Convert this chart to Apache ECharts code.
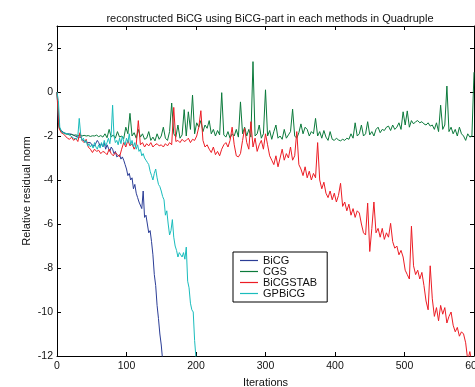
<!DOCTYPE html>
<html><head><meta charset="utf-8">
<script src="https://cdn.jsdelivr.net/npm/echarts/dist/echarts.min.js"></script>
<style>html,body{margin:0;padding:0;background:#fff}#c{width:475px;height:387px}</style>
</head><body><div id="c"></div>
<script>
const titleText = "reconstructed BiCG using BiCG-part in each methods in Quadruple";
const xName = "Iterations";
const yName = "Relative residual norm";
const seriesNames = ["BiCG", "CGS", "BiCGSTAB", "GPBiCG"];
const seriesColors = ["#2b3d96", "#0b7a3b", "#ec1c24", "#1abcbc"];
const xMin = 0, xMax = 600, xStep = 100;
const yMin = -12, yMax = 3, yStep = 2;

// BiCG: iterations 0,2,4,...,152
const bicgStep = 2;
const bicgVals = [
  0, -1.4, -1.65, -1.75, -1.8, -1.85, -1.88, -1.9, -1.92, -1.9,
  -1.95, -1.93, -1.97, -2.0, -1.98, -2.05, -2.1, -2.05, -2.15, -2.2,
  -2.25, -2.2, -2.3, -2.35, -2.3, -2.4, -2.35, -2.45, -2.4, -2.2,
  -2.3, -2.45, -2.35, -2.5, -2.3, -2.6, -2.4, -2.55, -2.7, -2.5,
  -2.6, -2.8, -2.7, -2.95, -3.0, -2.85, -3.05, -2.95, -3.1, -3.3,
  -3.5, -3.8, -3.7, -4.0, -3.9, -4.4, -4.2, -4.6, -4.8, -5.0,
  -5.0, -5.3, -4.5, -5.7, -5.6, -6.0, -6.4, -6.3, -6.8, -7.4,
  -8.3, -8.8, -9.7, -10.3, -11.0, -11.5, -12.2
];

// CGS: iterations 0,3,6,...,600
const cgsStep = 3;
const cgsVals = [
  0, -1.6, -1.8, -1.85, -1.9, -1.92, -1.95, -1.93, -1.97, -1.95,
  -1.98, -1.96, -2.0, -1.97, -2.0, -1.98, -2.02, -1.99, -2.0, -1.96,
  -2.03, -1.98, -2.05, -1.9, -2.08, -1.7, -2.05, -1.95, -2.1, -1.8,
  -2.05, -2.0, -2.12, -1.6, -1.9, -0.97, -2.0, -1.85, -2.1, -1.7,
  -2.05, -1.9, -2.15, -2.1, -1.8, -2.2, -2.05, -2.22, -1.9, -2.15,
  -2.0, -1.6, -2.1, -2.2, -1.8, -0.5, -1.9, -2.05, -1.5, -2.1,
  -1.95, -0.8, -2.0, -0.9, -1.7, -0.14, -1.9, -1.4, -1.6, -1.3,
  -1.8, -1.5, -1.65, -1.3, -1.9, -1.7, -2.0, -1.75, -1.95, -0.03,
  -1.95, -2.05, -1.8, -2.1, -1.9, -2.0, -1.7, -2.05, -0.45, -1.9,
  -1.6, -2.0, -1.7, -2.05, 1.38, -2.0, -1.9, -1.5, -2.1, -1.9,
  0.1, -2.0, -1.75, -2.15, -1.8, -1.5, -2.1, -2.0, -2.15, -1.7,
  -2.1, -1.95, -1.8, -0.78, -2.0, -2.1, -1.85, -1.45, -1.9, -1.6,
  -1.7, -2.0, -1.8, -1.9, -1.2, -2.0, -1.8, -2.1, -1.75, -2.05,
  -2.2, -1.8, -2.15, -2.2, -2.1, -2.18, -2.22, -2.15, -2.2, -2.1,
  -2.15, -1.9, -2.1, -1.4, -2.0, -1.9, -1.5, -2.0, -1.9, -1.35,
  -1.95, -1.8, -2.0, -1.7, -1.6, -1.85, -1.7, -1.75, -1.6, -1.55,
  -1.75, -1.5, -1.7, -1.6, -1.4, -1.7, -0.9, -1.5, -0.86, -1.6,
  -1.3, -1.45, -1.35, -1.3, -1.4, -1.35, -1.45, -1.5, -1.4, -1.55,
  -1.5, -1.7, -1.4, -1.8, -0.6, -1.7, -1.5, 0.27, -1.8, -1.6,
  -1.9, -1.7, -2.0, -1.6, -1.9, -2.0, -2.2, -1.9, -2.05, -2.0,
  0.9
];

// BiCGSTAB: iterations 0,3,6,...,600
const bicgstabStep = 3;
const bicgstabVals = [
  0, -1.65, -1.85, -1.9, -2.0, -2.1, -2.15, -2.05, -2.2, -2.1,
  -2.25, -1.85, -2.2, -2.3, -2.15, -2.5, -2.6, -2.75, -2.6, -2.7,
  -2.65, -2.8, -2.7, -2.75, -2.85, -2.6, -2.8, -2.9, -2.75, -2.85,
  -2.95, -2.6, -2.3, -2.5, -2.2, -2.45, -2.35, -2.6, -2.4, -1.3,
  -2.4, -2.3, -2.5, -2.35, -2.45, -2.3, -2.5, -2.4, -2.35, -2.45,
  -2.4, -2.5, -2.35, -2.45, -2.3, -2.4, -0.7, -2.25, -2.2, -2.3,
  -2.15, -2.25, -2.2, -2.1, -2.3, -2.15, -2.2, -2.0, -1.6, -0.85,
  -2.2, -2.5, -2.4, -2.6, -2.75, -2.5, -2.85, -2.7, -2.9, -2.6,
  -2.4, -2.3, -2.5, -2.2, -1.6, -2.4, -2.9, -2.95, -2.8, -2.2,
  -1.65, -2.3, -2.6, -1.35, -2.5, -2.1, -2.7, -2.4, -2.2, -2.6,
  -1.9, -2.4, -2.9, -3.1, -3.3, -2.9, -3.4, -3.0, -2.6, -3.1,
  -2.8, -3.0, -2.5, -3.1, -2.9, -1.8, -3.3, -3.5, -3.8, -3.4,
  -3.9, -3.6, -4.0, -3.7, -3.9, -2.3, -4.0, -4.4, -4.1, -4.6,
  -4.8, -4.5, -4.9, -4.6, -5.0, -4.7, -4.15, -5.2, -5.0, -5.4,
  -5.1, -5.6, -5.3, -5.7, -5.4, -5.5, -6.0, -6.4, -6.5, -5.05,
  -7.25, -6.2, -5.0, -6.4, -6.2, -6.6, -6.2, -6.7, -6.4, -6.6,
  -5.97, -6.8, -7.1, -7.0, -7.4, -7.2, -7.5, -8.1, -8.3, -8.5,
  -6.1, -7.9, -8.3, -8.1, -8.5, -8.2, -8.8, -9.5, -9.9, -7.9,
  -9.4, -10.2, -9.8, -10.4, -9.7, -10.1, -9.8, -10.5, -10.2, -10.0,
  -10.6, -10.9, -10.7, -11.1, -10.9, -11.0, -11.4, -12.2, -11.8, -12.3,
  -12.5
];

// GPBiCG: iterations 0,2,4,...,200
const gpbicgStep = 2;
const gpbicgVals = [
  0, -0.4, -1.6, -1.75, -1.85, -1.9, -1.88, -1.95, -1.9, -1.97,
  -2.0, -1.95, -2.1, -2.05, -2.15, -2.0, -1.2, -1.9, -2.2, -2.1,
  -2.3, -2.2, -2.45, -2.35, -2.5, -2.4, -2.55, -2.3, -2.5, -2.6,
  -2.4, -2.55, -2.3, -2.5, -2.2, -2.45, -2.3, -2.1, -2.35, -1.9,
  -0.6, -2.0, -2.3, -2.2, -2.4, -2.1, -2.35, -2.0, -2.25, -2.4,
  -2.1, -2.3, -1.9, -2.4, -2.2, -2.5, -2.3, -2.6, -2.4, -2.7,
  -2.6, -2.9, -2.8, -3.0, -3.1, -3.2, -3.3, -3.6, -3.8, -4.0,
  -3.7, -3.5, -3.9, -4.2, -4.3, -4.5, -4.75, -4.9, -5.6, -5.4,
  -6.0, -6.5, -6.3, -5.8, -6.6, -7.0, -7.2, -7.5, -7.3, -7.4,
  -7.5, -7.3, -7.6, -7.05, -8.6, -8.9, -9.6, -9.9, -10.0, -11.3,
  -12.1
];

const allVals = [bicgVals, cgsVals, bicgstabVals, gpbicgVals];
const allSteps = [bicgStep, cgsStep, bicgstabStep, gpbicgStep];

const FONT = '"Liberation Sans", Arial, "Noto Sans CJK JP", sans-serif';
const chart = echarts.init(document.getElementById('c'), null, {renderer: 'canvas'});

const axisBase = {
  type: 'value',
  splitLine: {show: false},
  axisLine: {show: true, onZero: false, lineStyle: {color: '#000', width: 1}},
  axisTick: {show: true, inside: true, length: 4, lineStyle: {color: '#000'}},
};

chart.setOption({
  animation: false,
  backgroundColor: '#fff',
  title: {
    text: titleText,
    left: 265, top: 8, textAlign: 'center',
    textStyle: {fontFamily: FONT, fontSize: 11, fontWeight: 'normal', color: '#111'}
  },
  grid: {left: 57, right: 1, top: 26, bottom: 31, containLabel: false, outerBoundsMode: 'none'},
  legend: {
    orient: 'vertical', left: 233, top: 252,
    padding: [3, 10, 3, 7], itemGap: 0, itemWidth: 18, itemHeight: 1.2,
    icon: 'rect',
    backgroundColor: '#fff', borderColor: '#000', borderWidth: 1, borderRadius: 0,
    textStyle: {fontFamily: FONT, fontSize: 11, lineHeight: 11, color: '#111'},
    data: seriesNames
  },
  xAxis: [
    Object.assign({}, axisBase, {
      min: xMin, max: xMax, interval: xStep, position: 'bottom',
      name: xName, nameLocation: 'middle', nameGap: 21, nameMoveOverlap: false,
      nameTextStyle: {fontFamily: FONT, fontSize: 11, color: '#111'},
      axisLabel: {fontFamily: FONT, fontSize: 10.5, color: '#111', margin: 5, showMaxLabel: true}
    }),
    Object.assign({}, axisBase, {
      min: xMin, max: xMax, interval: xStep, position: 'top',
      axisLabel: {show: false}
    })
  ],
  yAxis: [
    Object.assign({}, axisBase, {
      min: yMin, max: yMax, interval: yStep, position: 'left',
      name: yName, nameLocation: 'middle', nameGap: 25, nameRotate: 90, nameMoveOverlap: false,
      nameTextStyle: {fontFamily: FONT, fontSize: 11, color: '#111'},
      axisLabel: {fontFamily: FONT, fontSize: 10.5, color: '#111', margin: 4, showMaxLabel: false}
    }),
    Object.assign({}, axisBase, {
      min: yMin, max: yMax, interval: yStep, position: 'right',
      axisLabel: {show: false}
    })
  ],
  series: seriesNames.map((name, k) => ({
    name: name,
    type: 'line',
    xAxisIndex: 0, yAxisIndex: 0,
    data: allVals[k].map((v, i) => [i * allSteps[k], v]),
    showSymbol: false, symbol: 'none',
    clip: true,
    color: seriesColors[k],
    lineStyle: {width: 1, color: seriesColors[k]}
  }))
});
</script>
</body></html>
